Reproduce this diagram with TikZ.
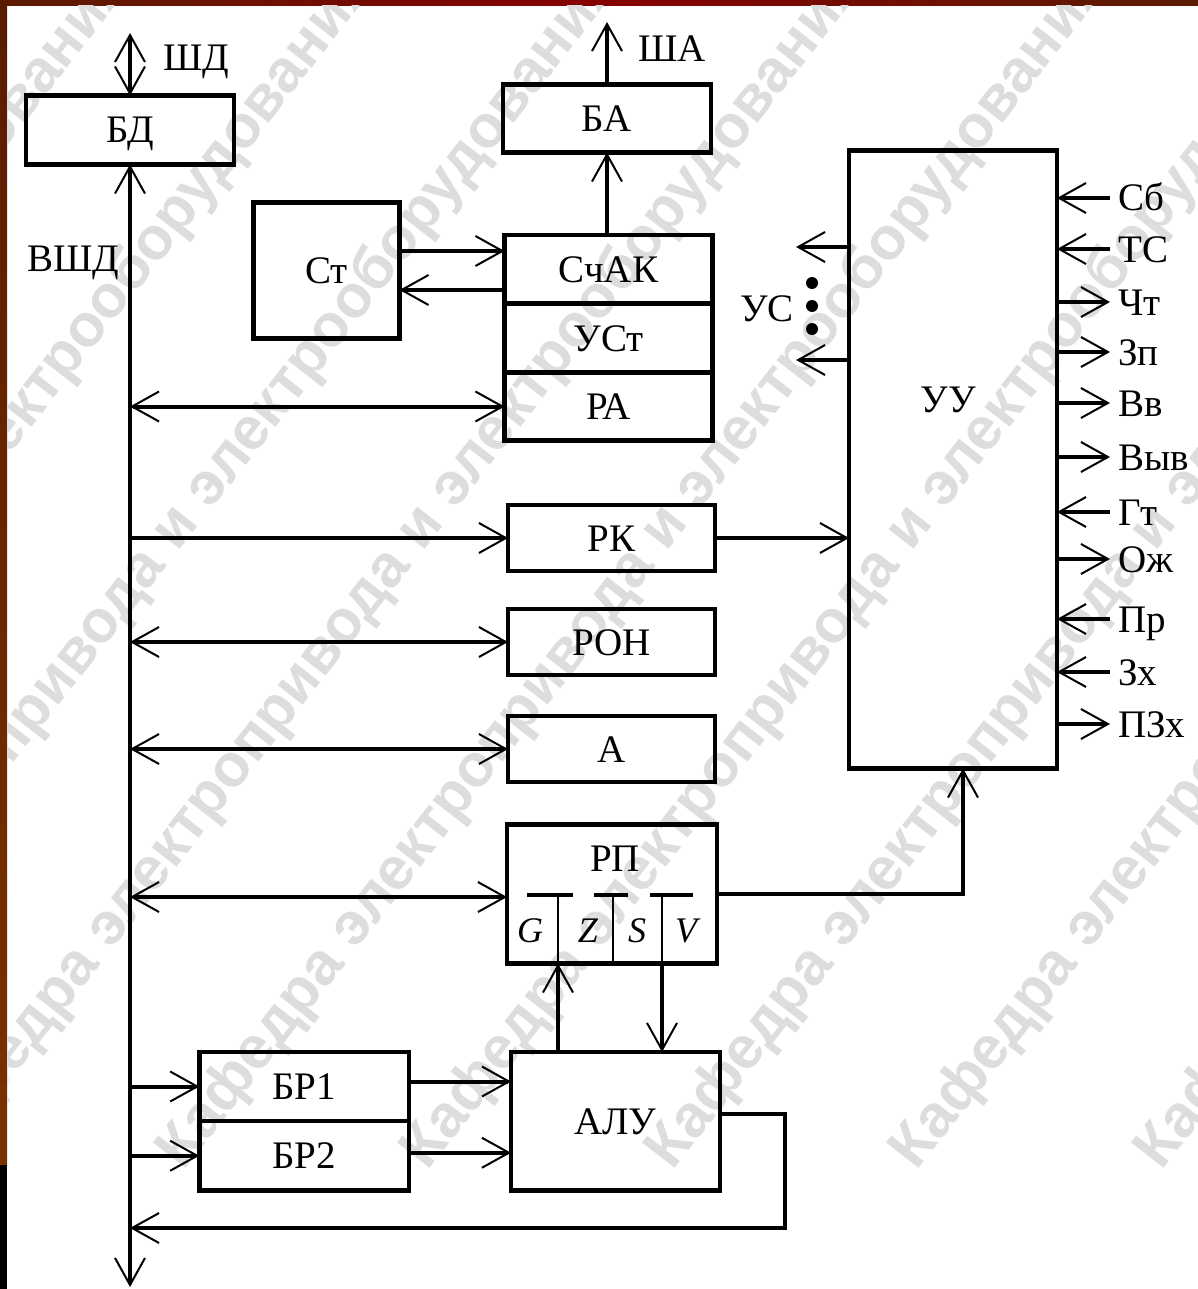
\documentclass[tikz,border=0pt]{standalone}
\usepackage{fontspec}
\setmainfont{Liberation Serif}
\newfontfamily\wmfont{Liberation Sans}
\usepackage{tikz}
\usetikzlibrary{arrows.meta,positioning,calc}
\definecolor{StripDark}{HTML}{5A1C00}
\definecolor{StripRed}{HTML}{850000}
\definecolor{StripLow}{HTML}{7A3200}
\definecolor{WaterGray}{HTML}{DDDDDD}

\begin{document}
\begin{tikzpicture}[
  x=1pt, y=-1pt,
  font=\fontsize{39}{44}\selectfont,
  >={Straight Barb[length=27pt,width=30pt,line width=2pt]},
  box/.style={draw, line width=4.5pt, inner sep=0pt, outer sep=0pt, minimum width=208pt, text height=26pt, text depth=0pt},
  lbl/.style={inner sep=0pt, text height=26pt, text depth=0pt},
  wire/.style={line width=4pt},
  arrow/.style={wire, ->},
  twoway/.style={wire, <->},
  sig/.style={anchor=base west, inner sep=0pt},
  flag/.style={font=\fontsize{36}{40}\selectfont\itshape, inner sep=0pt},
  flagbar/.style={line width=4pt},
  dot/.style={circle, fill, inner sep=0pt, minimum size=12pt},
  wmark/.style={font=\wmfont\bfseries\fontsize{60}{66}\selectfont, text=WaterGray, rotate=52, anchor=base west, inner sep=0pt}
]
\useasboundingbox (0,0) rectangle (1198,1289);
\fill[white] (0,0) rectangle (1198,1289);
% frame of the slide
\shade[left color=StripDark, right color=StripDark, middle color=StripRed] (0,0) rectangle (1198,6);
\shade[top color=StripDark, bottom color=StripLow] (0,0) rectangle (7,1165);
\fill[black] (0,1165) rectangle (7,1289);

% watermark
\begin{scope}
  \clip (7,6) rectangle (1198,1289);
  \foreach \wx [count=\n] in {-1039.5,-795,-550.5,-306,-61.5,183,427.5,672,916.5,1161}
    \node[wmark] (wm\n) at (\wx,1172) {Кафедра электропривода и электрооборудования};
\end{scope}

% blocks
\node[box, minimum height=69pt] (BD) at (130,130) {БД};
\node[box, minimum height=68pt] (BA) at (607,118.5) {БА};
\node[box, minimum width=146pt, minimum height=136pt] (St) at (326.5,270.5) {Ст};
\node[box, minimum height=68.5pt] (SchAK) at (608.5,269.25) {СчАК};
\node[box, minimum height=69pt, below=0pt of SchAK] (USt) {УСт};
\node[box, minimum height=68pt, below=0pt of USt] (RA) {РА};
\node[box, minimum width=207pt, minimum height=66pt] (RK) at (611.5,538) {РК};
\node[box, minimum width=207pt, minimum height=66pt] (RON) at (611.5,642) {РОН};
\node[box, minimum width=207pt, minimum height=66pt] (A) at (611.5,749) {А};
\node[box, minimum width=210pt, minimum height=139pt] (RP) at (612,894) {};
\node[lbl] (RPlbl) at (615,858) {РП};
\node[box, minimum height=618pt] (UU) at (953,459.5) {};
\node[lbl] (UUlbl) at (948,399) {УУ};
\node[box, minimum width=209.5pt, minimum height=69pt] (BR1) at (304,1086.5) {БР1};
\node[box, minimum width=209.5pt, minimum height=69.5pt, below=0pt of BR1] (BR2) {БР2};
\node[box, minimum width=209pt, minimum height=138.5pt] (ALU) at (615.5,1121.25) {АЛУ};

% flags of RP
\coordinate (fG) at (558,895);
\coordinate (fZ) at (613,895);
\coordinate (fV) at (662,895);
\draw[flagbar] (527,895) -- (573,895);
\draw[flagbar] (594,895) -- (628,895);
\draw[flagbar] (650,895) -- (693,895);
\draw[line width=2pt] (fG) -- (fG |- RP.south);
\draw[line width=2pt] (fZ) -- (fZ |- RP.south);
\draw[line width=2pt] (fV) -- (fV |- RP.south);
\node[flag] (G) at (530,931) {G};
\node[flag] (Z) at (588,931) {Z};
\node[flag] (S) at (637,931) {S};
\node[flag] (V) at (686,931) {V};

% internal bus
\coordinate (busbot) at (130,1287);
\draw[twoway] (busbot) -- (BD.south);
\node[sig] (VSHDlbl) at (27,271) {ВШД};

% external buses
\coordinate (shd) at (130,33);
\draw[twoway] (BD.north) -- (shd);
\node[sig] (SHDlbl) at (163,71) {ШД};
\coordinate (sha) at (607,22);
\draw[arrow] (BA.north) -- (sha);
\node[sig] (SHAlbl) at (638,62) {ША};
\draw[arrow] (SchAK.north -| BA.north) -- (BA.south);

% St <-> SchAK
\draw[arrow] ([yshift=19.5pt]St.east) coordinate (st1) -- (st1 -| SchAK.west);
\coordinate (st2) at ([yshift=-19.5pt]St.east);
\draw[arrow] (st2 -| SchAK.west) -- (st2);

% bus to registers
\draw[twoway] (busbot |- RA.west) -- (RA.west);
\draw[arrow] (busbot |- RK.west) -- (RK.west);
\draw[twoway] (busbot |- RON.west) -- (RON.west);
\draw[twoway] (busbot |- A.west) -- (A.west);
\coordinate (rpin) at ([yshift=-3pt]RP.west);
\draw[twoway] (busbot |- rpin) -- (rpin);
\draw[arrow] (busbot |- BR1.west) -- (BR1.west);
\draw[arrow] (busbot |- BR2.west) -- (BR2.west);

% to control unit
\draw[arrow] (RK.east) -- (RK.east -| UU.west);
\coordinate (uuin) at ([xshift=10pt]UU.south);
\draw[arrow] (RP.east) -| (uuin);

% ALU
\draw[arrow] (fG |- ALU.north) -- (fG |- RP.south);
\draw[arrow] (fV |- RP.south) -- (fV |- ALU.north);
\coordinate (br1o) at ([yshift=5pt]BR1.east);
\draw[arrow] (br1o) -- (br1o -| ALU.west);
\coordinate (br2o) at ([yshift=3pt]BR2.east);
\draw[arrow] (br2o) -- (br2o -| ALU.west);
\coordinate (aluo) at ([yshift=7pt]ALU.east);
\coordinate (fb) at (785,1228);
\draw[arrow] (aluo) -| (fb) -- (fb -| busbot);

% control signals
\coordinate (us1) at (796,247);
\coordinate (us2) at (796,360);
\draw[arrow] (UU.west |- us1) -- (us1);
\draw[arrow] (UU.west |- us2) -- (us2);
\node[dot] (d1) at (812,283) {};
\node[dot] (d2) at (812,306) {};
\node[dot] (d3) at (812,329) {};
\node[sig] (USlbl) at (740,321) {УС};

\foreach \yy/\txt [count=\n] in {198/Сб, 249/ТС, 512/Гт, 619/Пр, 672/Зх}{
  \coordinate (si\n) at (1110,\yy);
  \draw[arrow] (si\n) -- (si\n -| UU.east);
  \node[sig] (sil\n) at (1118,\yy+13) {\txt};
}
\foreach \yy/\txt [count=\n] in {302/Чт, 352/Зп, 403/Вв, 457/Выв, 559/Ож, 724/ПЗх}{
  \coordinate (so\n) at (1110,\yy);
  \draw[arrow] (so\n -| UU.east) -- (so\n);
  \node[sig] (sol\n) at (1118,\yy+13) {\txt};
}
\end{tikzpicture}
\end{document}
